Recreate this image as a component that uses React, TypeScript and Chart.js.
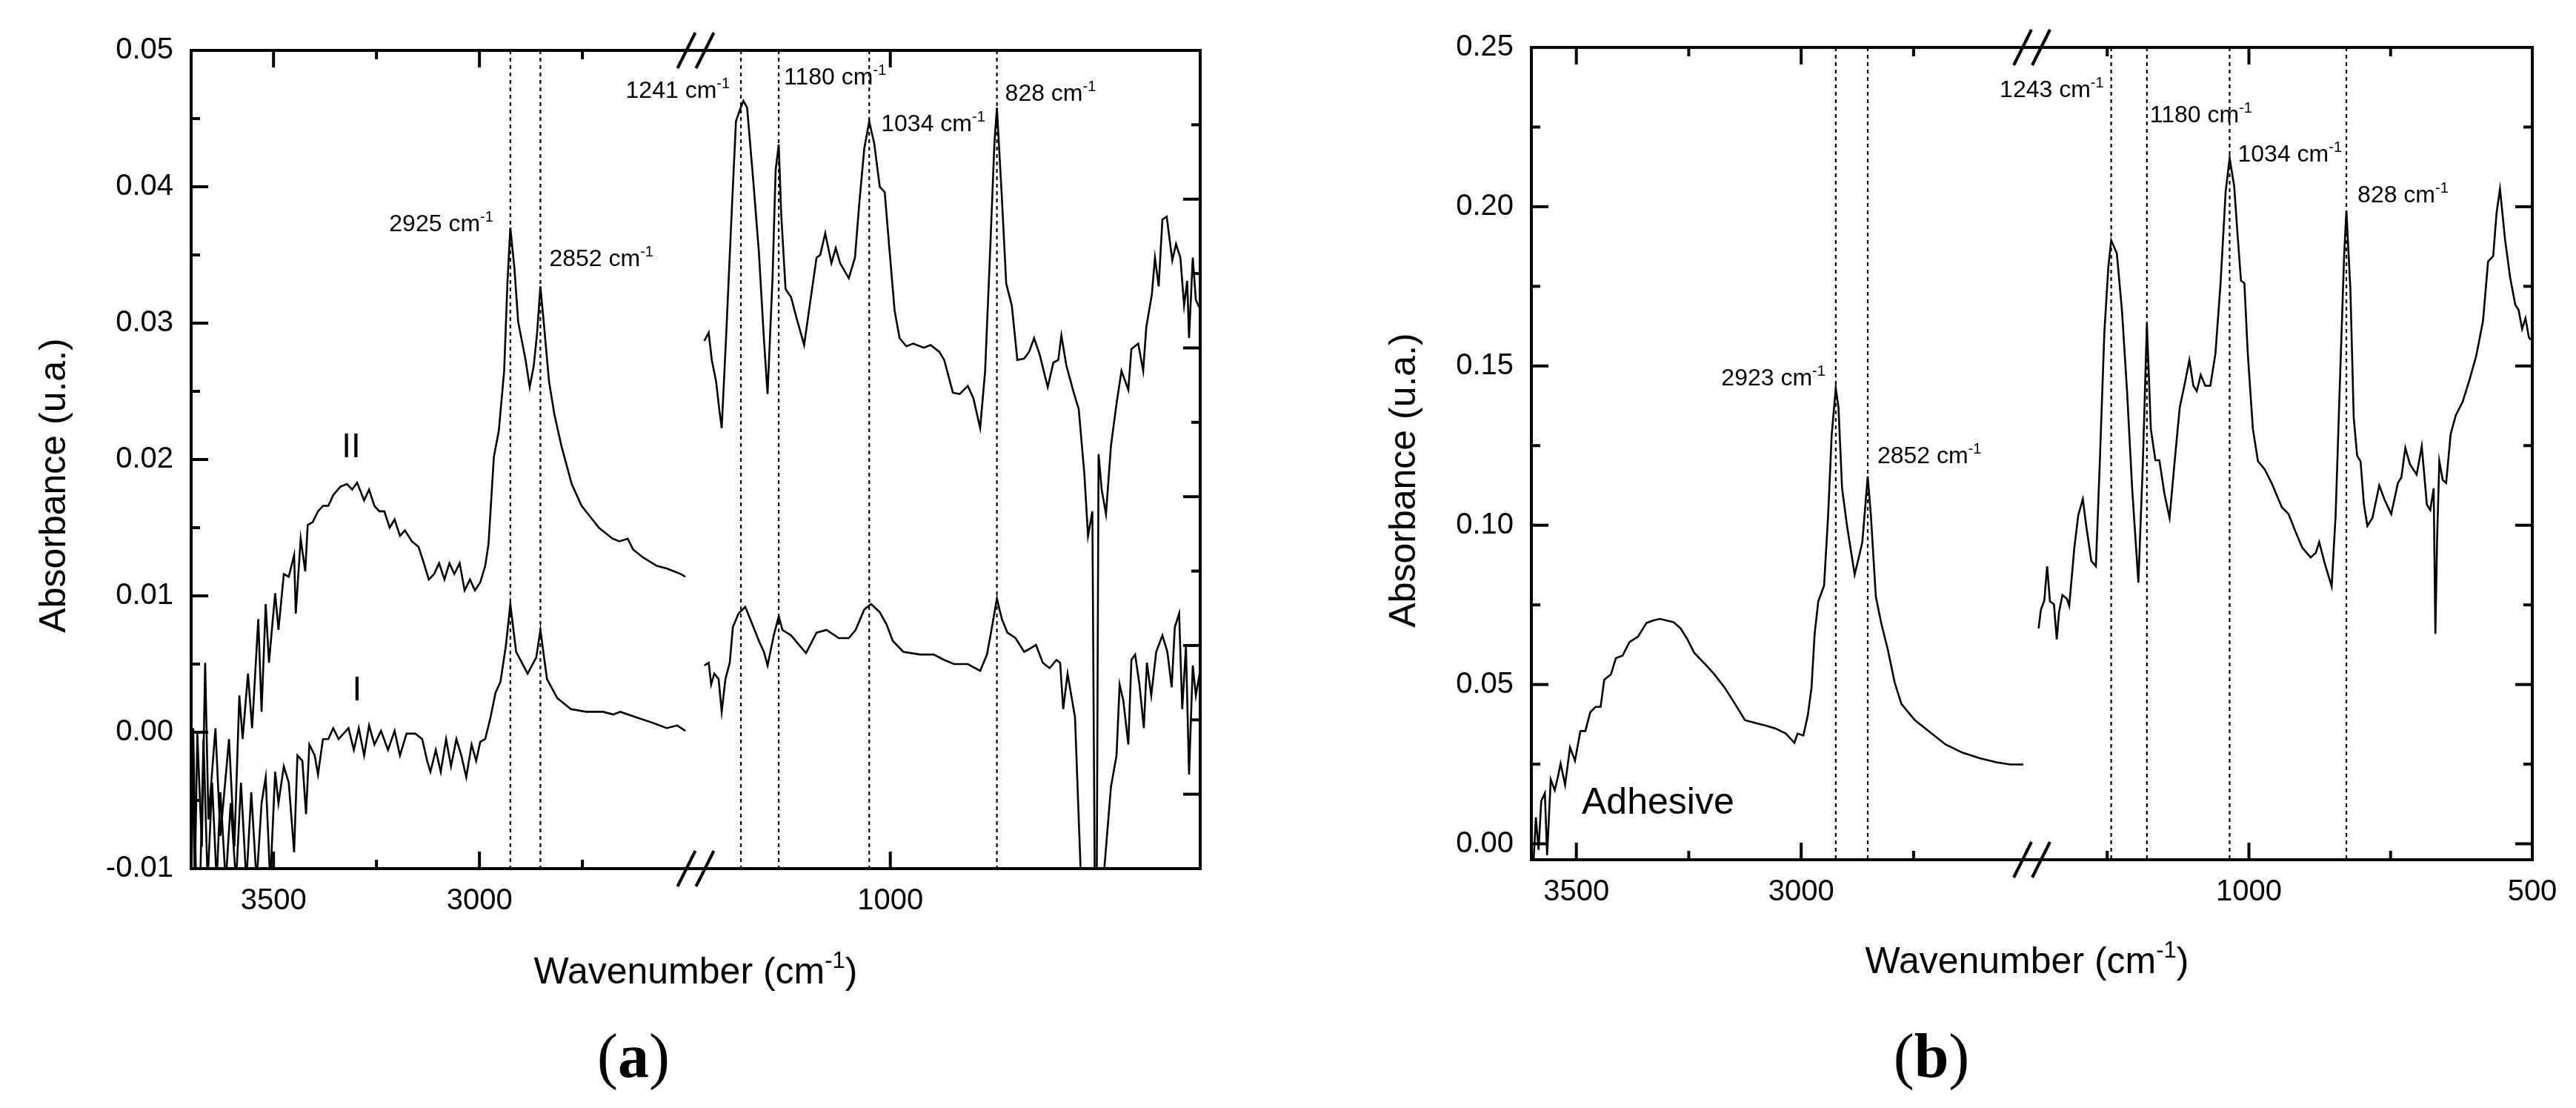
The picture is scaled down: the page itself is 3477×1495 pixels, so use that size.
import { useEffect, useRef } from "react";
import { Chart, registerables } from "chart.js";

Chart.register(...registerables);

const sans = "'Liberation Sans', Arial, sans-serif";
const serif = "'Liberation Serif', 'Times New Roman', serif";

// ---------- panel (a): films I and II ----------
const aYTicks = [-0.01, 0, 0.01, 0.02, 0.03, 0.04, 0.05];
const aYMinor = [-0.005, 0.005, 0.015, 0.025, 0.035, 0.045];
// the right-hand layer of (a) has its own axis, -0.005 .. 0.05
const aRightTicks = [0, 0.01, 0.02, 0.03, 0.04];
const aRightMinor = [0.005, 0.015, 0.025, 0.035, 0.045];
const aXTicks = [3500, 3000, 1000];
const aXMinor = [3250, 2750];
const aBands = [2925, 2852, 1241, 1180, 1034, 828];

const filmIIHigh: [number, number][] = [
  [3699, 0.0003], [3691, -0.011], [3685, -0.0001], [3674, -0.0084], [3666, 0.0051], [3658, -0.0064],
  [3641, 0.0003], [3629, -0.0076], [3608, -0.0005], [3595, -0.0084], [3583, 0.0027], [3575, -0.0005],
  [3562, 0.0043], [3552, 0.0003], [3537, 0.0083], [3529, 0.0015], [3519, 0.0094], [3511, 0.0051],
  [3504, 0.0075], [3496, 0.0102], [3488, 0.0075], [3475, 0.0116], [3463, 0.0114], [3450, 0.013],
  [3446, 0.0087], [3434, 0.0142], [3423, 0.0118], [3417, 0.0152], [3405, 0.0154], [3392, 0.0162],
  [3380, 0.0166], [3367, 0.0166], [3355, 0.0174], [3338, 0.018], [3322, 0.0182], [3309, 0.0178],
  [3297, 0.0183], [3280, 0.017], [3268, 0.0178], [3255, 0.0166], [3243, 0.0162], [3231, 0.0162],
  [3218, 0.015], [3206, 0.0156], [3193, 0.0144], [3181, 0.0148], [3164, 0.014], [3148, 0.0136],
  [3135, 0.0124], [3123, 0.0112], [3110, 0.0116], [3098, 0.0124], [3085, 0.0112], [3073, 0.0124],
  [3061, 0.0116], [3048, 0.0124], [3036, 0.0104], [3023, 0.0112], [3011, 0.0104], [2998, 0.011],
  [2986, 0.0122], [2978, 0.0138], [2965, 0.0202], [2953, 0.0221], [2940, 0.0265], [2932, 0.033],
  [2925, 0.037], [2915, 0.034], [2906, 0.0301], [2888, 0.0273], [2878, 0.0253], [2868, 0.0269],
  [2860, 0.0293], [2852, 0.0327], [2844, 0.0301], [2831, 0.0257], [2818, 0.0233], [2801, 0.021],
  [2776, 0.0182], [2752, 0.0166], [2731, 0.0158], [2710, 0.015], [2677, 0.0142], [2660, 0.014],
  [2640, 0.0142], [2627, 0.0134], [2602, 0.0128], [2569, 0.0122], [2544, 0.012], [2511, 0.0116],
  [2500, 0.0114],
];

const filmIILow: [number, number][] = [
  [1300, 0.0287], [1293, 0.0293], [1288, 0.0273], [1281, 0.0257], [1276, 0.0237], [1272, 0.0223],
  [1265, 0.0289], [1256, 0.038], [1249, 0.0448], [1243, 0.0456], [1237, 0.0463], [1231, 0.0458],
  [1221, 0.0404], [1212, 0.0352], [1204, 0.0289], [1198, 0.0248], [1190, 0.0333], [1185, 0.0412],
  [1180, 0.0431], [1176, 0.038], [1169, 0.0325], [1160, 0.0319], [1152, 0.0305], [1139, 0.0284],
  [1130, 0.0313], [1119, 0.0348], [1113, 0.035], [1105, 0.0366], [1095, 0.0344], [1088, 0.0355],
  [1081, 0.0344], [1067, 0.0333], [1057, 0.0348], [1050, 0.0388], [1042, 0.0428], [1034, 0.0448],
  [1026, 0.0432], [1017, 0.04], [1009, 0.0396], [1001, 0.0352], [993, 0.0309], [985, 0.0289],
  [974, 0.0283], [963, 0.0285], [946, 0.0282], [935, 0.0284], [921, 0.0279], [913, 0.0273],
  [899, 0.0249], [888, 0.0248], [875, 0.0254], [866, 0.0245], [855, 0.0223], [847, 0.0265],
  [839, 0.0352], [832, 0.0432], [828, 0.0458], [820, 0.0392], [813, 0.0329], [804, 0.0313],
  [795, 0.0273], [784, 0.0274], [776, 0.0279], [768, 0.0289], [759, 0.0277], [746, 0.0253],
  [737, 0.0271], [729, 0.0273], [724, 0.0291], [716, 0.0269], [704, 0.0249], [696, 0.0237],
  [687, 0.019], [681, 0.0144], [674, 0.0162], [670, -0.012], [667, -0.012], [664, 0.0204],
  [659, 0.0178], [652, 0.016], [644, 0.021], [635, 0.0241], [627, 0.0265], [616, 0.0251],
  [611, 0.0281], [600, 0.0285], [592, 0.0265], [587, 0.0297], [578, 0.0321], [573, 0.0348],
  [567, 0.0327], [561, 0.0376], [554, 0.0378], [545, 0.0346], [539, 0.0358], [532, 0.0348],
  [526, 0.0313], [521, 0.0331], [518, 0.0289], [512, 0.0348], [507, 0.0317], [501, 0.0311],
];

const filmIHigh: [number, number][] = [
  [3701, -0.011], [3695, 0.0003], [3688, -0.011], [3678, -0.011], [3670, -0.0005], [3660, -0.011],
  [3649, -0.0037], [3638, -0.011], [3629, -0.0044], [3616, -0.011], [3604, -0.0052], [3591, -0.011],
  [3579, -0.0037], [3566, -0.011], [3554, -0.0044], [3541, -0.011], [3529, -0.0052], [3519, -0.0033],
  [3508, -0.011], [3496, -0.0029], [3488, -0.0052], [3475, -0.0025], [3463, -0.0037], [3450, -0.0088],
  [3442, -0.0017], [3430, -0.0021], [3421, -0.006], [3413, -0.0009], [3400, -0.0017], [3392, -0.0031],
  [3380, -0.0005], [3367, -0.0005], [3355, 0.0003], [3342, -0.0005], [3330, -0.0001], [3318, 0.0003],
  [3305, -0.0013], [3293, 0.0003], [3280, -0.0017], [3268, 0.0005], [3255, -0.0009], [3239, 0.0001],
  [3222, -0.0013], [3206, 0.0001], [3193, -0.0017], [3177, -0.0001], [3156, -0.0001], [3139, -0.0005],
  [3127, -0.0021], [3119, -0.0029], [3106, -0.0013], [3094, -0.0029], [3081, -0.0005], [3069, -0.0025],
  [3056, -0.0005], [3044, -0.0017], [3032, -0.0033], [3019, -0.0009], [3008, -0.0021], [2998, -0.0007],
  [2986, -0.0005], [2973, 0.0011], [2961, 0.0029], [2949, 0.0037], [2936, 0.0063], [2930, 0.008],
  [2925, 0.0094], [2911, 0.0059], [2883, 0.0043], [2862, 0.0055], [2852, 0.0075], [2836, 0.0039],
  [2811, 0.0025], [2778, 0.0017], [2741, 0.0015], [2700, 0.0015], [2675, 0.0013], [2658, 0.0015],
  [2620, 0.0011], [2580, 0.0007], [2545, 0.0003], [2520, 0.0005], [2500, 0.0001],
];

const filmILow: [number, number][] = [
  [1300, 0.0049], [1293, 0.0051], [1289, 0.0035], [1284, 0.0043], [1277, 0.0039], [1272, 0.0015],
  [1266, 0.0039], [1259, 0.0051], [1254, 0.0077], [1245, 0.0087], [1234, 0.0092], [1226, 0.0083],
  [1212, 0.0067], [1204, 0.0059], [1198, 0.0049], [1188, 0.0071], [1180, 0.0085], [1174, 0.0075],
  [1160, 0.0071], [1149, 0.0065], [1136, 0.0058], [1119, 0.0073], [1103, 0.0075], [1083, 0.0069],
  [1067, 0.0069], [1056, 0.0075], [1042, 0.009], [1031, 0.0094], [1017, 0.0088], [1006, 0.0079],
  [996, 0.0067], [979, 0.0059], [952, 0.0057], [930, 0.0057], [913, 0.0053], [897, 0.005],
  [875, 0.005], [855, 0.0045], [844, 0.0057], [836, 0.0077], [828, 0.0098], [820, 0.0083],
  [811, 0.0073], [798, 0.0069], [784, 0.0059], [776, 0.0061], [765, 0.0064], [754, 0.0051],
  [743, 0.0047], [732, 0.0053], [726, 0.0051], [721, 0.0017], [714, 0.0043], [702, 0.0011],
  [693, -0.01], [685, -0.013], [668, -0.013], [660, -0.013], [644, -0.004], [635, -0.0017],
  [630, 0.0035], [624, 0.0023], [616, -0.0009], [611, 0.0053], [605, 0.0057], [598, 0.0035],
  [591, 0.0003], [586, 0.0051], [579, 0.0027], [571, 0.0059], [561, 0.0071], [553, 0.0059],
  [546, 0.0033], [541, 0.0077], [534, 0.0087], [529, 0.0017], [523, 0.0063], [518, -0.0031],
  [512, 0.0049], [507, 0.0027], [501, 0.0043],
];

// ---------- panel (b): adhesive ----------
const bYTicks = [0, 0.05, 0.1, 0.15, 0.2, 0.25];
const bYMinor = [0.025, 0.075, 0.125, 0.175, 0.225];
const bXTicks = [3500, 3000, 1000, 500];
const bXMinor = [3250, 2750, 1250, 750];
const bBands = [2923, 2852, 1243, 1180, 1034, 828];

const adhesiveHigh: [number, number][] = [
  [3595, -0.0052], [3590, 0.0083], [3584, -0.0019], [3578, 0.0134], [3570, 0.0159], [3565, -0.0036],
  [3557, 0.0202], [3548, 0.0168], [3541, 0.021], [3535, 0.0252], [3525, 0.0185], [3514, 0.0303],
  [3503, 0.0261], [3491, 0.0354], [3480, 0.0354], [3469, 0.0413], [3457, 0.043], [3446, 0.043],
  [3438, 0.0515], [3423, 0.0532], [3412, 0.0583], [3397, 0.0591], [3382, 0.0633], [3363, 0.065],
  [3344, 0.0693], [3329, 0.0701], [3314, 0.0706], [3299, 0.0701], [3284, 0.0696], [3268, 0.0676],
  [3253, 0.0642], [3238, 0.06], [3215, 0.0566], [3193, 0.0532], [3170, 0.049], [3147, 0.0439],
  [3125, 0.0388], [3102, 0.0379], [3079, 0.0371], [3057, 0.0362], [3034, 0.0346], [3015, 0.0317],
  [3008, 0.0346], [2995, 0.034], [2985, 0.0405], [2977, 0.049], [2970, 0.0659], [2962, 0.0761],
  [2949, 0.0811], [2940, 0.1032], [2932, 0.1286], [2923, 0.143], [2917, 0.137], [2909, 0.1116],
  [2898, 0.0998], [2881, 0.0845], [2871, 0.0904], [2864, 0.0947], [2852, 0.1153], [2845, 0.1032],
  [2834, 0.0777], [2822, 0.0693], [2807, 0.0608], [2792, 0.0506], [2777, 0.0439], [2747, 0.0388],
  [2717, 0.0354], [2679, 0.0312], [2641, 0.0286], [2603, 0.0269], [2566, 0.0256], [2535, 0.0249],
  [2506, 0.0249],
];

const adhesiveLow: [number, number][] = [
  [1371, 0.0676], [1367, 0.0735], [1361, 0.0764], [1356, 0.0871], [1351, 0.0761], [1344, 0.0752],
  [1339, 0.0642], [1335, 0.0727], [1329, 0.0781], [1321, 0.0769], [1317, 0.0747], [1308, 0.093],
  [1301, 0.1032], [1293, 0.1082], [1287, 0.0998], [1278, 0.0888], [1270, 0.0871], [1263, 0.1201],
  [1255, 0.1607], [1248, 0.1811], [1243, 0.1895], [1233, 0.1853], [1224, 0.1675], [1215, 0.1421],
  [1206, 0.1116], [1195, 0.082], [1187, 0.1201], [1180, 0.1633], [1173, 0.1302], [1165, 0.1204],
  [1158, 0.1204], [1149, 0.1099], [1140, 0.1023], [1131, 0.1201], [1122, 0.137], [1113, 0.1446],
  [1105, 0.1519], [1098, 0.1438], [1092, 0.1421], [1085, 0.1472], [1077, 0.1438], [1068, 0.1438],
  [1059, 0.154], [1050, 0.176], [1041, 0.2048], [1034, 0.2153], [1026, 0.2065], [1020, 0.1912],
  [1014, 0.1768], [1008, 0.176], [1002, 0.154], [993, 0.1302], [984, 0.1201], [972, 0.1175],
  [960, 0.1133], [942, 0.1057], [930, 0.1035], [918, 0.0981], [906, 0.093], [891, 0.0899],
  [882, 0.0913], [876, 0.0947], [866, 0.0879], [854, 0.0808], [847, 0.1032], [839, 0.1472],
  [832, 0.1845], [828, 0.1988], [821, 0.1743], [815, 0.1336], [809, 0.1218], [803, 0.1201],
  [797, 0.1065], [791, 0.0998], [782, 0.1023], [770, 0.1125], [761, 0.1082], [749, 0.1035],
  [737, 0.1133], [731, 0.115], [724, 0.1243], [716, 0.1192], [704, 0.1159], [695, 0.1248],
  [686, 0.1065], [680, 0.1048], [674, 0.1116], [671, 0.0659], [668, 0.0955], [664, 0.1201],
  [658, 0.1142], [652, 0.1133], [644, 0.1286], [635, 0.1345], [623, 0.1387], [611, 0.1455],
  [599, 0.1531], [587, 0.1641], [578, 0.1828], [569, 0.1845], [563, 0.198], [557, 0.2056],
  [548, 0.1896], [539, 0.1777], [530, 0.1692], [524, 0.1675], [518, 0.1616], [512, 0.165],
  [506, 0.159], [503, 0.1582],
];

type Align = "left" | "right" | "center";

const panels = [
  {
    width: 1738,
    area: { left: 258, top: 68, right: 1620, bottom: 1172 },
    high: [3700, 2475],
    low: [1314, 500],
    yMin: -0.01,
    yMax: 0.05,
    yTicks: aYTicks,
    yMinor: aYMinor,
    right: { min: -0.005, max: 0.05, ticks: aRightTicks, minor: aRightMinor },
    xTicks: aXTicks,
    xMinor: aXMinor,
    series: [filmIIHigh, filmIILow, filmIHigh, filmILow],
    bands: aBands,
    bandLabels: [
      { dx: -23, y: 312, align: "right" as Align },
      { dx: 12, y: 359, align: "left" as Align },
      { dx: -15, y: 132, align: "right" as Align },
      { dx: 7, y: 114, align: "left" as Align },
      { dx: 16, y: 177, align: "left" as Align },
      { dx: 11, y: 136, align: "left" as Align },
    ],
    notes: [
      { text: "II", x: 474, y: 617, size: 46, align: "center" as Align },
      { text: "I", x: 482, y: 945, size: 46, align: "center" as Align },
    ],
    yTitle: { x: 88, y: 655 },
    xTitle: { x: 939, y: 1327 },
    tag: { text: "a", x: 855, y: 1453 },
  },
  {
    width: 1739,
    area: { left: 329, top: 64, right: 1680, bottom: 1160 },
    high: [3600, 2487],
    low: [1383, 500],
    yMin: -0.005,
    yMax: 0.25,
    yTicks: bYTicks,
    yMinor: bYMinor,
    right: null,
    xTicks: bXTicks,
    xMinor: bXMinor,
    series: [adhesiveHigh, adhesiveLow],
    bands: bBands,
    bandLabels: [
      { dx: -14, y: 520, align: "right" as Align },
      { dx: 13, y: 625, align: "left" as Align },
      { dx: -10, y: 131, align: "right" as Align },
      { dx: 4, y: 165, align: "left" as Align },
      { dx: 11, y: 218, align: "left" as Align },
      { dx: 15, y: 273, align: "left" as Align },
    ],
    notes: [{ text: "Adhesive", x: 397, y: 1098, size: 50, align: "left" as Align }],
    yTitle: { x: 172, y: 648 },
    xTitle: { x: 998, y: 1313 },
    tag: { text: "b", x: 869, y: 1453 },
  },
];

type PanelSpec = (typeof panels)[number];

// broken wavenumber axis: high range on the left half, low range on the right half
const breakScale = (high: number[], low: number[]) => (w: number) =>
  w > (high[1] + low[0]) / 2
    ? (0.5 * (high[0] - w)) / (high[0] - high[1])
    : 0.5 + (0.5 * (low[0] - w)) / (low[0] - low[1]);

function drawWithSup(ctx: CanvasRenderingContext2D, base: string, sup: string, tail: string,
  x: number, y: number, size: number, align: Align) {
  const supSize = Math.round(size * 0.62);
  ctx.font = `${size}px ${sans}`;
  const wb = ctx.measureText(base).width;
  const wt = ctx.measureText(tail).width;
  ctx.font = `${supSize}px ${sans}`;
  const ws = ctx.measureText(sup).width;
  const total = wb + ws + wt;
  const sx = align === "right" ? x - total : align === "center" ? x - total / 2 : x;
  ctx.textAlign = "left";
  ctx.textBaseline = "alphabetic";
  ctx.font = `${size}px ${sans}`;
  ctx.fillText(base, sx, y);
  ctx.font = `${supSize}px ${sans}`;
  ctx.fillText(sup, sx + wb, y - size * 0.42);
  ctx.font = `${size}px ${sans}`;
  ctx.fillText(tail, sx + wb + ws, y);
}

function SpectrumPanel({ panel }: { panel: PanelSpec }) {
  const canvasRef = useRef<HTMLCanvasElement>(null);

  useEffect(() => {
    const ctx = canvasRef.current?.getContext("2d");
    if (!ctx) return;
    const toU = breakScale(panel.high, panel.low);
    const { area } = panel;
    const H = 1495;

    const decor = {
      id: "decor",
      beforeDatasetsDraw(chart: any) {
        const { ctx: c, chartArea: a, scales } = chart;
        c.save();
        c.strokeStyle = "#000";
        c.lineWidth = 2.2;
        c.setLineDash([5, 5]);
        panel.bands.forEach((wn) => {
          const x = scales.x.getPixelForValue(toU(wn));
          c.beginPath();
          c.moveTo(x, a.top);
          c.lineTo(x, a.bottom);
          c.stroke();
        });
        c.restore();
      },
      afterDraw(chart: any) {
        const { ctx: c, chartArea: a, scales } = chart;
        const xs = scales.x;
        const ys = scales.y;
        const rs = panel.right ? scales.y2 : ys;
        const line = (x1: number, y1: number, x2: number, y2: number) => {
          c.beginPath();
          c.moveTo(x1, y1);
          c.lineTo(x2, y2);
          c.stroke();
        };
        c.save();
        c.strokeStyle = "#000";
        c.fillStyle = "#000";
        c.lineCap = "butt";
        c.lineWidth = 4;
        c.strokeRect(a.left, a.top, a.right - a.left, a.bottom - a.top);

        // inward ticks on all four sides
        const xTick = (wn: number, len: number) => {
          const x = xs.getPixelForValue(toU(wn));
          line(x, a.bottom, x, a.bottom - len);
          line(x, a.top, x, a.top + len);
        };
        panel.xTicks.forEach((wn) => xTick(wn, 23));
        panel.xMinor.forEach((wn) => xTick(wn, 12));
        panel.yTicks.forEach((v) => {
          const y = ys.getPixelForValue(v);
          line(a.left, y, a.left + 23, y);
        });
        panel.yMinor.forEach((v) => {
          const y = ys.getPixelForValue(v);
          line(a.left, y, a.left + 12, y);
        });
        (panel.right ? panel.right.ticks : panel.yTicks).forEach((v) => {
          const y = rs.getPixelForValue(v);
          line(a.right, y, a.right - 23, y);
        });
        (panel.right ? panel.right.minor : panel.yMinor).forEach((v) => {
          const y = rs.getPixelForValue(v);
          line(a.right, y, a.right - 12, y);
        });

        // axis break marks
        const bx = xs.getPixelForValue(0.5);
        [a.top, a.bottom].forEach((y) => {
          [-12.5, 12.5].forEach((off) => line(bx + off + 12, y - 24, bx + off - 12, y + 24));
        });

        // band labels
        panel.bands.forEach((wn, i) => {
          const lab = panel.bandLabels[i];
          const x = xs.getPixelForValue(toU(wn)) + lab.dx;
          drawWithSup(c, `${wn} cm`, "-1", "", x, lab.y, 32, lab.align);
        });

        panel.notes.forEach((n) => {
          c.font = `${n.size}px ${sans}`;
          c.textAlign = n.align;
          c.textBaseline = "alphabetic";
          c.fillText(n.text, n.x, n.y);
        });

        // axis titles
        c.save();
        c.translate(panel.yTitle.x, panel.yTitle.y);
        c.rotate(-Math.PI / 2);
        c.font = `50px ${sans}`;
        c.textAlign = "center";
        c.textBaseline = "alphabetic";
        c.fillText("Absorbance (u.a.)", 0, 0);
        c.restore();
        drawWithSup(c, "Wavenumber (cm", "-1", ")", panel.xTitle.x, panel.xTitle.y, 50, "center");

        // panel tag "(a)" / "(b)"
        c.textBaseline = "alphabetic";
        c.textAlign = "left";
        c.font = `84px ${serif}`;
        const wp = c.measureText("(").width;
        const wq = c.measureText(")").width;
        c.font = `bold 84px ${serif}`;
        const wl = c.measureText(panel.tag.text).width;
        let tx = panel.tag.x - (wp + wl + wq) / 2;
        c.font = `84px ${serif}`;
        c.fillText("(", tx, panel.tag.y);
        tx += wp;
        c.font = `bold 84px ${serif}`;
        c.fillText(panel.tag.text, tx, panel.tag.y);
        tx += wl;
        c.font = `84px ${serif}`;
        c.fillText(")", tx, panel.tag.y);
        c.restore();
      },
    };

    const scales: any = {
      x: {
        type: "linear",
        min: 0,
        max: 1,
        grid: { display: false, drawTicks: false },
        border: { display: false },
        afterBuildTicks: (s: any) => {
          s.ticks = panel.xTicks.map((wn) => ({ value: toU(wn) }));
        },
        afterFit: (s: any) => {
          s.height = 100;
        },
        ticks: {
          padding: 20,
          color: "#000",
          font: { family: sans, size: 40 },
          maxRotation: 0,
          autoSkip: false,
          callback: (_v: any, i: number) => String(panel.xTicks[i]),
        },
      },
      y: {
        type: "linear",
        min: panel.yMin,
        max: panel.yMax,
        grid: { display: false, drawTicks: false },
        border: { display: false },
        afterBuildTicks: (s: any) => {
          s.ticks = panel.yTicks.map((v) => ({ value: v }));
        },
        afterFit: (s: any) => {
          s.width = area.left;
        },
        ticks: {
          padding: 24,
          color: "#000",
          font: { family: sans, size: 40 },
          callback: (v: any) => Number(v).toFixed(2),
        },
      },
    };
    if (panel.right) {
      scales.y2 = {
        type: "linear",
        position: "right",
        display: false,
        min: panel.right.min,
        max: panel.right.max,
      };
    }

    const chart = new Chart(ctx, {
      type: "line",
      data: {
        datasets: panel.series.map((s) => ({
          data: s.map(([wn, ab]) => ({ x: toU(wn), y: ab })),
          borderColor: "#000",
          borderWidth: 2.6,
          pointRadius: 0,
          fill: false,
          tension: 0,
        })),
      },
      options: {
        animation: false,
        responsive: false,
        devicePixelRatio: 1,
        layout: {
          padding: {
            left: 0,
            top: area.top,
            right: panel.width - area.right,
            bottom: H - area.bottom - 100,
          },
        },
        plugins: { legend: { display: false }, tooltip: { enabled: false } },
        scales,
      },
      plugins: [decor],
    });

    return () => {
      chart.destroy();
    };
  }, [panel]);

  return <canvas ref={canvasRef} width={panel.width} height={1495} style={{ display: "block" }} />;
}

export default function App() {
  return (
    <div style={{ width: 3477, height: 1495, display: "flex", background: "#fff" }}>
      <style>{`body { margin: 0; }`}</style>
      {panels.map((p, i) => (
        <SpectrumPanel key={i} panel={p} />
      ))}
    </div>
  );
}
